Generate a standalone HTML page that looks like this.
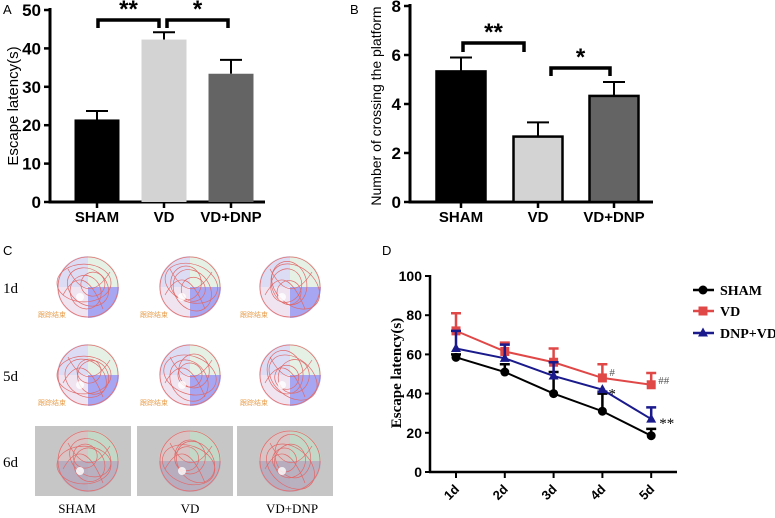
<!DOCTYPE html>
<html><head><meta charset="utf-8">
<style>
body{margin:0;background:#fff;width:775px;height:518px;overflow:hidden}
svg{display:block}
.s{font-family:"Liberation Sans",sans-serif}
.r{font-family:"Liberation Serif",serif}
</style></head>
<body>
<svg id="fig" width="775" height="518" viewBox="0 0 775 518">
<g id="pa"></g>
<g id="pb"></g>
<g id="pc"></g>
<g id="pd"></g>
</svg>
<script>
const groups=['SHAM','VD','VD+DNP'];
const aValues=[21.5,42.3,33.4];
const aErr=[23.7,44.2,37.0];
const aTicks=[0,10,20,30,40,50];
const bValues=[5.33,2.67,4.33];
const bErr=[5.9,3.25,4.9];
const bTicks=[0,2,4,6,8];
const days=['1d','2d','3d','4d','5d'];
const dSham=[58.5,51,40,31,18.5];
const dShamErr=[60,55,51,40,22];
const dVD=[72,61.5,56,48,44.5];
const dVDErr=[81,66,63,55,50.5];
const dDNP=[63,58,49,42,27];
const dDNPErr=[72,65,56,41,33];
const dTicks=[0,20,40,60,80,100];
const barFills=['#000','#d3d3d3','#646464'];
const NS='http://www.w3.org/2000/svg';
function mk(p,tag,at,txt){const e=document.createElementNS(NS,tag);for(const k in at)e.setAttribute(k,at[k]);if(txt!=null)e.textContent=txt;p.appendChild(e);return e;}

function barPanel(g,o){
  const y=v=>o.y0-(v/o.max)*(o.y0-o.yTop);
  mk(g,'line',{x1:o.ax,y1:o.yTop-2,x2:o.ax,y2:o.y0+1.5,stroke:'#000','stroke-width':3});
  mk(g,'line',{x1:o.ax-1.5,y1:o.y0,x2:o.xEnd,y2:o.y0,stroke:'#000','stroke-width':3});
  o.ticks.forEach(t=>{
    mk(g,'line',{x1:o.ax-6,y1:y(t),x2:o.ax,y2:y(t),stroke:'#000','stroke-width':2.5});
    const l=mk(g,'text',{x:o.ax-9,y:y(t)+6,'text-anchor':'end','font-size':17,'font-weight':'bold',class:'s'},t);
    
  });
  o.vals.forEach((v,i)=>{
    const cx=o.cx[i];
    const eb=mk(g,'path',{d:`M${cx} ${y(v)} V${y(o.err[i])} M${cx-11} ${y(o.err[i])} H${cx+11}`,stroke:'#000','stroke-width':2,fill:'none'});
    
    const r=mk(g,'rect',{x:cx-o.bw/2,y:y(v),width:o.bw,height:o.y0-y(v),fill:barFills[i],stroke:o.outline?'#000':'none','stroke-width':o.outline?2.5:0});
    
    mk(g,'line',{x1:cx,y1:o.y0,x2:cx,y2:o.y0+6,stroke:'#000','stroke-width':2.5});
    const l=mk(g,'text',{x:cx,y:o.y0+20,'text-anchor':'middle','font-size':15,'font-weight':'bold',class:'s'},groups[i]);
    
  });
  o.br.forEach(b=>{
    const p=mk(g,'path',{d:`M${b[0]} ${b[3]} V${b[2]} H${b[1]} V${b[3]}`,stroke:'#000','stroke-width':3.5,fill:'none'});
    
    const s=mk(g,'text',{x:(b[0]+b[1])/2,y:b[2]-3,'text-anchor':'middle','font-size':24,'font-weight':'bold',class:'s'},b[4]);
    
  });
  const t=mk(g,'text',{transform:`translate(${o.lx},${o.ly}) rotate(-90)`,'text-anchor':'middle','font-size':o.lfs,class:'s'},o.label);
  
}
const A=document.getElementById('pa');
mk(A,'text',{x:3,y:14,'font-size':13,class:'s'},'A');
barPanel(A,{ax:50,y0:202,yTop:10,max:50,xEnd:265,ticks:aTicks,vals:aValues,err:aErr,cx:[97,164,231],bw:45,
 br:[[98,159,20,28,'**'],[167,228,20,28,'*']],label:'Escape latency(s)',lx:18,ly:106,lfs:15});
const B=document.getElementById('pb');
mk(B,'text',{x:350,y:14,'font-size':13,class:'s'},'B');
barPanel(B,{ax:410,y0:202,yTop:6,max:8,xEnd:653,ticks:bTicks,vals:bValues,err:bErr,cx:[461,538,614],bw:49,outline:true,
 br:[[463,524,43,52,'**'],[551,610,68,76,'*']],label:'Number of crossing the platform',lx:381,ly:106,lfs:14});

// Panel C
const C=document.getElementById('pc');
mk(C,'text',{x:3,y:255,'font-size':13,class:'s'},'C');
const rowsC=[['1d',287],['5d',375],['6d',461]];
const colsC=[88,190,290];
rowsC.forEach((rw,ri)=>{
  const rl=mk(C,'text',{x:3,y:rw[1]+6,'font-size':15,class:'r'},rw[0]);
  
  colsC.forEach((cx,ci)=>{
    const cy=rw[1],R=31;
    const g=mk(C,'g',{});
    
    if(ri===2) mk(g,'rect',{x:cx-53,y:426,width:96,height:70,fill:'#c6c6c6'});
    const q=ri===2?['#d8c4c4','#c4d8c8','#b8acbf','#b9b1c0']:['#dcdcf4','#e6f1e6','#efe4f0','#a6a6f2'];
    mk(g,'path',{d:`M${cx} ${cy} V${cy-R} A${R} ${R} 0 0 0 ${cx-R} ${cy} Z`,fill:q[0]});
    mk(g,'path',{d:`M${cx} ${cy} V${cy-R} A${R} ${R} 0 0 1 ${cx+R} ${cy} Z`,fill:q[1]});
    mk(g,'path',{d:`M${cx} ${cy} H${cx-R} A${R} ${R} 0 0 0 ${cx} ${cy+R} Z`,fill:q[2]});
    mk(g,'path',{d:`M${cx} ${cy} H${cx+R} A${R} ${R} 0 0 1 ${cx} ${cy+R} Z`,fill:q[3]});
    mk(g,'circle',{cx:cx,cy:cy,r:R-1,fill:'none',stroke:'#e07070','stroke-width':0.8});
    for(let k=0;k<4;k++){
      const rr=R-4-k*5;
      mk(g,'ellipse',{cx:cx+((k+ci)%3-1)*4,cy:cy+((k+ri)%3-1)*4,rx:rr,ry:rr*(0.7+0.1*k),fill:'none',stroke:'#e06a6a','stroke-width':0.7,transform:`rotate(${k*35+ci*20} ${cx} ${cy})`});
    }
    mk(g,'path',{d:`M${cx-20} ${cy-18} Q${cx} ${cy+20} ${cx+22} ${cy-15} M${cx-25} ${cy+8} Q${cx-5} ${cy-28} ${cx+15} ${cy+22}`,fill:'none',stroke:'#e06a6a','stroke-width':0.7});
    mk(g,'circle',{cx:cx-8,cy:cy+10,r:4,fill:'#fff',opacity:0.8});
    if(ri<2) mk(g,'text',{x:cx-50,y:cy+30,'font-size':7,fill:'#e8a050','font-family':'"Noto Sans CJK SC",sans-serif'},'跟踪结束');
  });
});
['SHAM','VD','VD+DNP'].forEach((t,i)=>{
  const l=mk(C,'text',{x:[77,190,292][i],y:513,'text-anchor':'middle','font-size':13,class:'r'},t);
  
});

// Panel D
const D=document.getElementById('pd');
mk(D,'text',{x:382,y:255,'font-size':13,class:'s'},'D');
const dy=v=>472-v*1.96;
const dx=i=>456+i*48.8;
mk(D,'line',{x1:430,y1:275,x2:430,y2:473,stroke:'#000','stroke-width':2.5});
mk(D,'line',{x1:429,y1:472,x2:677,y2:472,stroke:'#000','stroke-width':2.5});
dTicks.forEach(t=>{
  mk(D,'line',{x1:425,y1:dy(t),x2:430,y2:dy(t),stroke:'#000','stroke-width':2});
  const l=mk(D,'text',{x:422,y:dy(t)+5,'text-anchor':'end','font-size':14,'font-weight':'bold',class:'s'},t);
  
});
days.forEach((d,i)=>{
  mk(D,'line',{x1:dx(i),y1:472,x2:dx(i),y2:478,stroke:'#000','stroke-width':2});
  const l=mk(D,'text',{transform:`translate(${dx(i)+4},${490}) rotate(-45)`,'text-anchor':'end','font-size':13,'font-weight':'bold',class:'s'},d);
  
});
const yt=mk(D,'text',{transform:'translate(401,373) rotate(-90)','text-anchor':'middle','font-size':15,'font-weight':'bold',class:'r'},'Escape latency(s)');

const series=[['sham',dSham,dShamErr,'#000','circle'],['vd',dVD,dVDErr,'#e04848','square'],['dnp-vd',dDNP,dDNPErr,'#1a1a8c','triangle']];
function marker(g,sh,x,y,c){
  if(sh==='circle')return mk(g,'circle',{cx:x,cy:y,r:4.5,fill:c});
  if(sh==='square')return mk(g,'rect',{x:x-4.5,y:y-4.5,width:9,height:9,fill:c});
  return mk(g,'path',{d:`M${x} ${y-5.5} L${x+5} ${y+3.5} L${x-5} ${y+3.5} Z`,fill:c});
}
series.forEach(s=>{
  const g=mk(D,'g',{});
  
  s[1].forEach((v,i)=>{
    mk(g,'path',{d:`M${dx(i)} ${dy(v)} V${dy(s[2][i])} M${dx(i)-5} ${dy(s[2][i])} H${dx(i)+5}`,stroke:s[3],'stroke-width':2.5,fill:'none'});
  });
  mk(g,'polyline',{points:s[1].map((v,i)=>dx(i)+','+dy(v)).join(' '),fill:'none',stroke:s[3],'stroke-width':2});
  s[1].forEach((v,i)=>{const m=marker(g,s[4],dx(i),dy(v),s[3]);});
});
[['#',dx(3)+7,dy(dVDErr[3])+12,'#555'],['##',dx(4)+7,dy(dVDErr[4])+11,'#555'],['*',dx(3)+6,dy(dDNP[3])+9,'#000'],['**',dx(4)+8,dy(dDNP[4])+9,'#000']].forEach(a=>{
  const t=mk(D,'text',{x:a[1],y:a[2],'font-size':a[0][0]==='*'?15:11,fill:a[3],class:'r'},a[0]);
  
});
[['SHAM',290,'#000','circle'],['VD',311,'#e04848','square'],['DNP+VD',333,'#1a1a8c','triangle']].forEach(l=>{
  const g=mk(D,'g',{});
  
  mk(g,'line',{x1:693,y1:l[1],x2:714,y2:l[1],stroke:l[2],'stroke-width':2.5});
  marker(g,l[3],703,l[1],l[2]);
  mk(g,'text',{x:720,y:l[1]+5,'font-size':14,'font-weight':'bold',class:'r'},l[0]);
});
</script>
</body></html>
